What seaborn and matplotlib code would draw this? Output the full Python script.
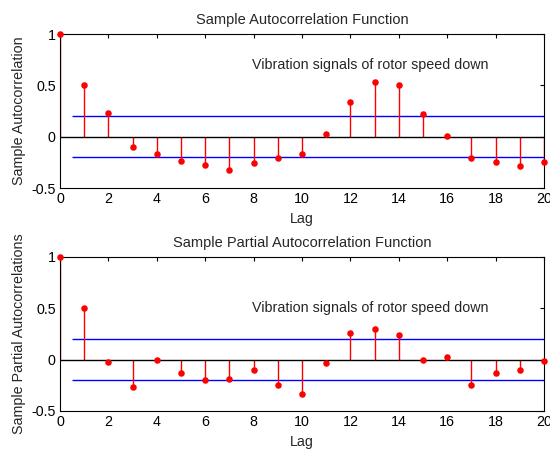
import numpy as np
import pandas as pd
import matplotlib
matplotlib.use("Agg")
import matplotlib.pyplot as plt
import seaborn as sns

lags = list(range(21))
acf_vals = [1.0, 0.50, 0.23, -0.10, -0.167, -0.235, -0.278, -0.324, -0.255, -0.212,
            -0.167, 0.03, 0.337, 0.533, 0.50, 0.216, 0.007, -0.212, -0.245, -0.288, -0.245]
pacf_vals = [1.0, 0.50, -0.026, -0.265, -0.003, -0.134, -0.20, -0.186, -0.101, -0.245,
             -0.33, -0.036, 0.261, 0.294, 0.239, -0.003, 0.03, -0.245, -0.134, -0.101, -0.013]
conf_bound = 0.2
titles = ["Sample Autocorrelation Function", "Sample Partial Autocorrelation Function"]
ylabels = ["Sample Autocorrelation", "Sample Partial Autocorrelations"]
xlabel = "Lag"
note = "Vibration signals of rotor speed down"
xticks = list(range(0, 21, 2))
yticks = [-0.5, 0, 0.5, 1]
yticklabels = ["-0.5", "0", "0.5", "1"]

sns.set_style("white")
plt.rcParams['font.family'] = ['Liberation Sans', 'DejaVu Sans']
plt.rcParams['font.size'] = 10

fig = plt.figure(figsize=(5.5, 4.5), dpi=100)
ax1 = fig.add_axes([60/550, 1-188/450, 484/550, 154/450])
ax2 = fig.add_axes([60/550, 1-411/450, 484/550, 154/450])

for ax, vals, title, ylab, note_y in [(ax1, acf_vals, titles[0], ylabels[0], 0.70),
                                       (ax2, pacf_vals, titles[1], ylabels[1], 0.50)]:
    df = pd.DataFrame({"lag": lags, "val": vals})
    ax.vlines(df["lag"], 0, df["val"], color="red", lw=1.0, zorder=2)
    ax.hlines(0, 0, 20, color="black", lw=1.0, zorder=3)
    ax.hlines([conf_bound, -conf_bound], 0.5, 20, color="blue", lw=1.0, zorder=1)
    sns.scatterplot(data=df, x="lag", y="val", ax=ax, color="red", s=22,
                    edgecolor="red", linewidth=0, zorder=4, clip_on=False)
    ax.set_xlim(0, 20)
    ax.set_ylim(-0.5, 1)
    ax.set_xticks(xticks)
    ax.set_yticks(yticks)
    ax.set_yticklabels(yticklabels)
    ax.tick_params(direction="in", length=3, width=0.8, top=True, right=True,
                   labelsize=10.3, pad=3, colors="black")
    for sp in ax.spines.values():
        sp.set_visible(True)
        sp.set_color("black")
        sp.set_linewidth(0.8)
    ax.set_title(title, fontsize=10.5, pad=7)
    ax.set_xlabel(xlabel, fontsize=10.3, labelpad=4)
    ax.set_ylabel(ylab, fontsize=10.3, labelpad=4)
    ax.text(7.95, note_y, note, fontsize=10.3, ha="left", va="center")

fig.savefig("out.png", dpi=100)
